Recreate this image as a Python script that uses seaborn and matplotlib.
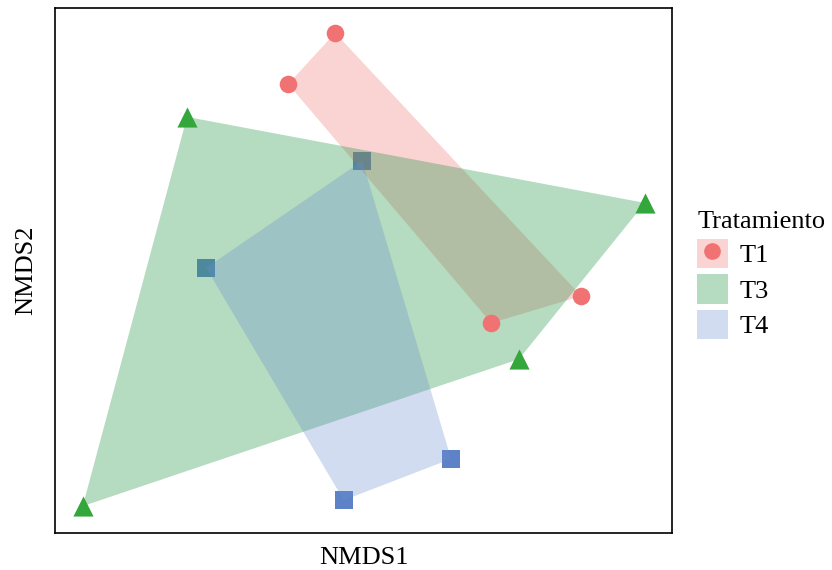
import numpy as np
import pandas as pd
import matplotlib
matplotlib.use("Agg")
import matplotlib.pyplot as plt
import seaborn as sns
from matplotlib.patches import Patch
from matplotlib.lines import Line2D

# ── Data (NMDS scores) ────────────────────────────────────────────────────────
groups = ["T1", "T1", "T1", "T1",
          "T3", "T3", "T3", "T3",
          "T4", "T4", "T4", "T4"]
nmds1 = [-0.046, -0.122, 0.353, 0.207,
         -0.286, 0.456, 0.252, -0.455,
         -0.002, -0.255, 0.142, -0.032]
nmds2 = [0.362, 0.284, -0.039, -0.080,
         0.234, 0.103, -0.135, -0.359,
         0.167, 0.004, -0.287, -0.350]
levels = ["T1", "T3", "T4"]

point_colors = {"T1": "#F07272", "T3": "#33A63C", "T4": "#5E82C8"}
fill_colors = {"T1": "#F07070", "T3": "#2C984B", "T4": "#6A8DD2"}
fill_alpha = {"T1": 0.3, "T3": 0.35, "T4": 0.3}
markers = {"T1": "o", "T3": "^", "T4": "s"}
marker_sizes = {"T1": 160, "T3": 210, "T4": 175}

df = pd.DataFrame({"NMDS1": nmds1, "NMDS2": nmds2, "Tratamiento": groups})


def convex_hull(pts):
    """Monotone chain hull, returns ordered vertices."""
    pts = sorted(map(tuple, pts))
    def cross(o, a, b):
        return (a[0] - o[0]) * (b[1] - o[1]) - (a[1] - o[1]) * (b[0] - o[0])
    lower, upper = [], []
    for p in pts:
        while len(lower) >= 2 and cross(lower[-2], lower[-1], p) <= 0:
            lower.pop()
        lower.append(p)
    for p in reversed(pts):
        while len(upper) >= 2 and cross(upper[-2], upper[-1], p) <= 0:
            upper.pop()
        upper.append(p)
    return np.array(lower[:-1] + upper[:-1])


plt.rcParams["font.family"] = ["Liberation Serif", "DejaVu Serif"]

fig = plt.figure(figsize=(8.32, 5.70), dpi=100)
ax = fig.add_axes([0.0661, 0.0649, 0.7416, 0.9211])

# T4 squares sit under the hulls, T1 / T3 points on top of them
for g in levels:
    sub = df[df["Tratamiento"] == g]
    sns.scatterplot(data=sub, x="NMDS1", y="NMDS2", color=point_colors[g],
                    marker=markers[g], s=marker_sizes[g], linewidth=0,
                    legend=False, ax=ax, zorder=1 if g == "T4" else 3)

# ── Hulls ─────────────────────────────────────────────────────────────────────
for g in levels:
    sub = df[df["Tratamiento"] == g][["NMDS1", "NMDS2"]].to_numpy()
    hull = convex_hull(sub)
    ax.fill(hull[:, 0], hull[:, 1], color=fill_colors[g], alpha=fill_alpha[g],
            linewidth=0, zorder=2)

ax.set_xlim(-0.5, 0.5)
ax.set_ylim(-0.4, 0.4)
ax.set_xticks([])
ax.set_yticks([])
ax.set_xlabel("NMDS1", fontsize=19, labelpad=10)
ax.set_ylabel("NMDS2", fontsize=19, labelpad=13)
for sp in ax.spines.values():
    sp.set_linewidth(1.2)
    sp.set_color("black")

# ── Legend ────────────────────────────────────────────────────────────────────
handles = [
    (Patch(facecolor=fill_colors["T1"], alpha=fill_alpha["T1"], linewidth=0),
     Line2D([], [], marker="o", color=point_colors["T1"], linestyle="none",
            markersize=12, markeredgewidth=0)),
    Patch(facecolor=fill_colors["T3"], alpha=fill_alpha["T3"], linewidth=0),
    Patch(facecolor=fill_colors["T4"], alpha=fill_alpha["T4"], linewidth=0),
]
fig.legend(handles, levels, title="Tratamiento", loc="upper left",
           bbox_to_anchor=(0.838, 0.630), frameon=False, fontsize=19,
           title_fontsize=19, handlelength=1.15, handleheight=1.35,
           handletextpad=0.45, labelspacing=0.22, borderaxespad=0,
           borderpad=0, alignment="left")

fig.savefig("out.png", dpi=100)
